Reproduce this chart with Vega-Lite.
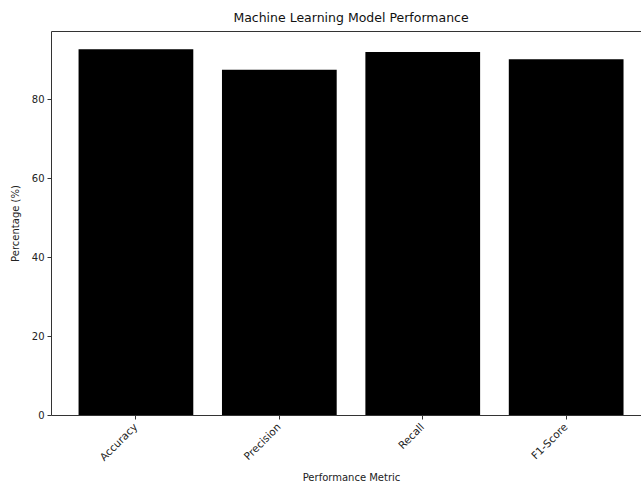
{
  "$schema": "https://vega.github.io/schema/vega-lite/v6.json",
  "autosize": {"type": "none"},
  "width": 590,
  "height": 384,
  "padding": {"left": 51, "top": 31, "right": 0, "bottom": 67},
  "background": "white",
  "config": {
    "view": {"stroke": null},
    "font": "DejaVu Sans",
    "axis": {"grid": false, "domainColor": "#333", "tickColor": "#333", "labelColor": "#222", "titleColor": "#222", "labelFont": "DejaVu Sans", "titleFont": "DejaVu Sans", "titleFontWeight": "normal", "labelFontSize": 10, "titleFontSize": 10, "domainWidth": 1, "tickWidth": 1}
  },
  "title": {"text": "Machine Learning Model Performance", "font": "DejaVu Sans", "fontSize": 12.5, "fontWeight": "normal", "color": "#111", "offset": 7, "dx": 5},
  "data": {"values": [
    {"metric": "Accuracy", "value": 92.7},
    {"metric": "Precision", "value": 87.5},
    {"metric": "Recall", "value": 92.0},
    {"metric": "F1-Score", "value": 90.2}
  ]},
  "layer": [
    {
      "mark": {"type": "bar", "color": "black"},
      "encoding": {
        "x": {"field": "metric", "type": "nominal", "sort": null,
              "scale": {"paddingInner": 0.2, "paddingOuter": 0.157, "align": 0.612},
              "axis": {"title": "Performance Metric", "labelAngle": -45, "labelAlign": "right", "labelBaseline": "middle", "labelFontSize": 10.5, "tickSize": 4, "labelPadding": 6, "titlePadding": 10, "titleX": 300}},
        "y": {"field": "value", "type": "quantitative",
              "scale": {"domain": [0, 97.33], "nice": false, "zero": true},
              "axis": {"title": "Percentage (%)", "values": [0, 20, 40, 60, 80], "tickSize": 4, "labelPadding": 3, "titlePadding": 11}}
      }
    },
    {
      "mark": {"type": "bar", "opacity": 0},
      "encoding": {
        "x": {"field": "metric", "type": "nominal", "sort": null,
              "scale": {"paddingInner": 0.2, "paddingOuter": 0.157, "align": 0.612},
              "axis": {"orient": "top", "title": null, "labels": false, "ticks": false, "domain": true}},
        "y": {"field": "value", "type": "quantitative"}
      }
    }
  ],
  "resolve": {"axis": {"x": "independent"}}
}
